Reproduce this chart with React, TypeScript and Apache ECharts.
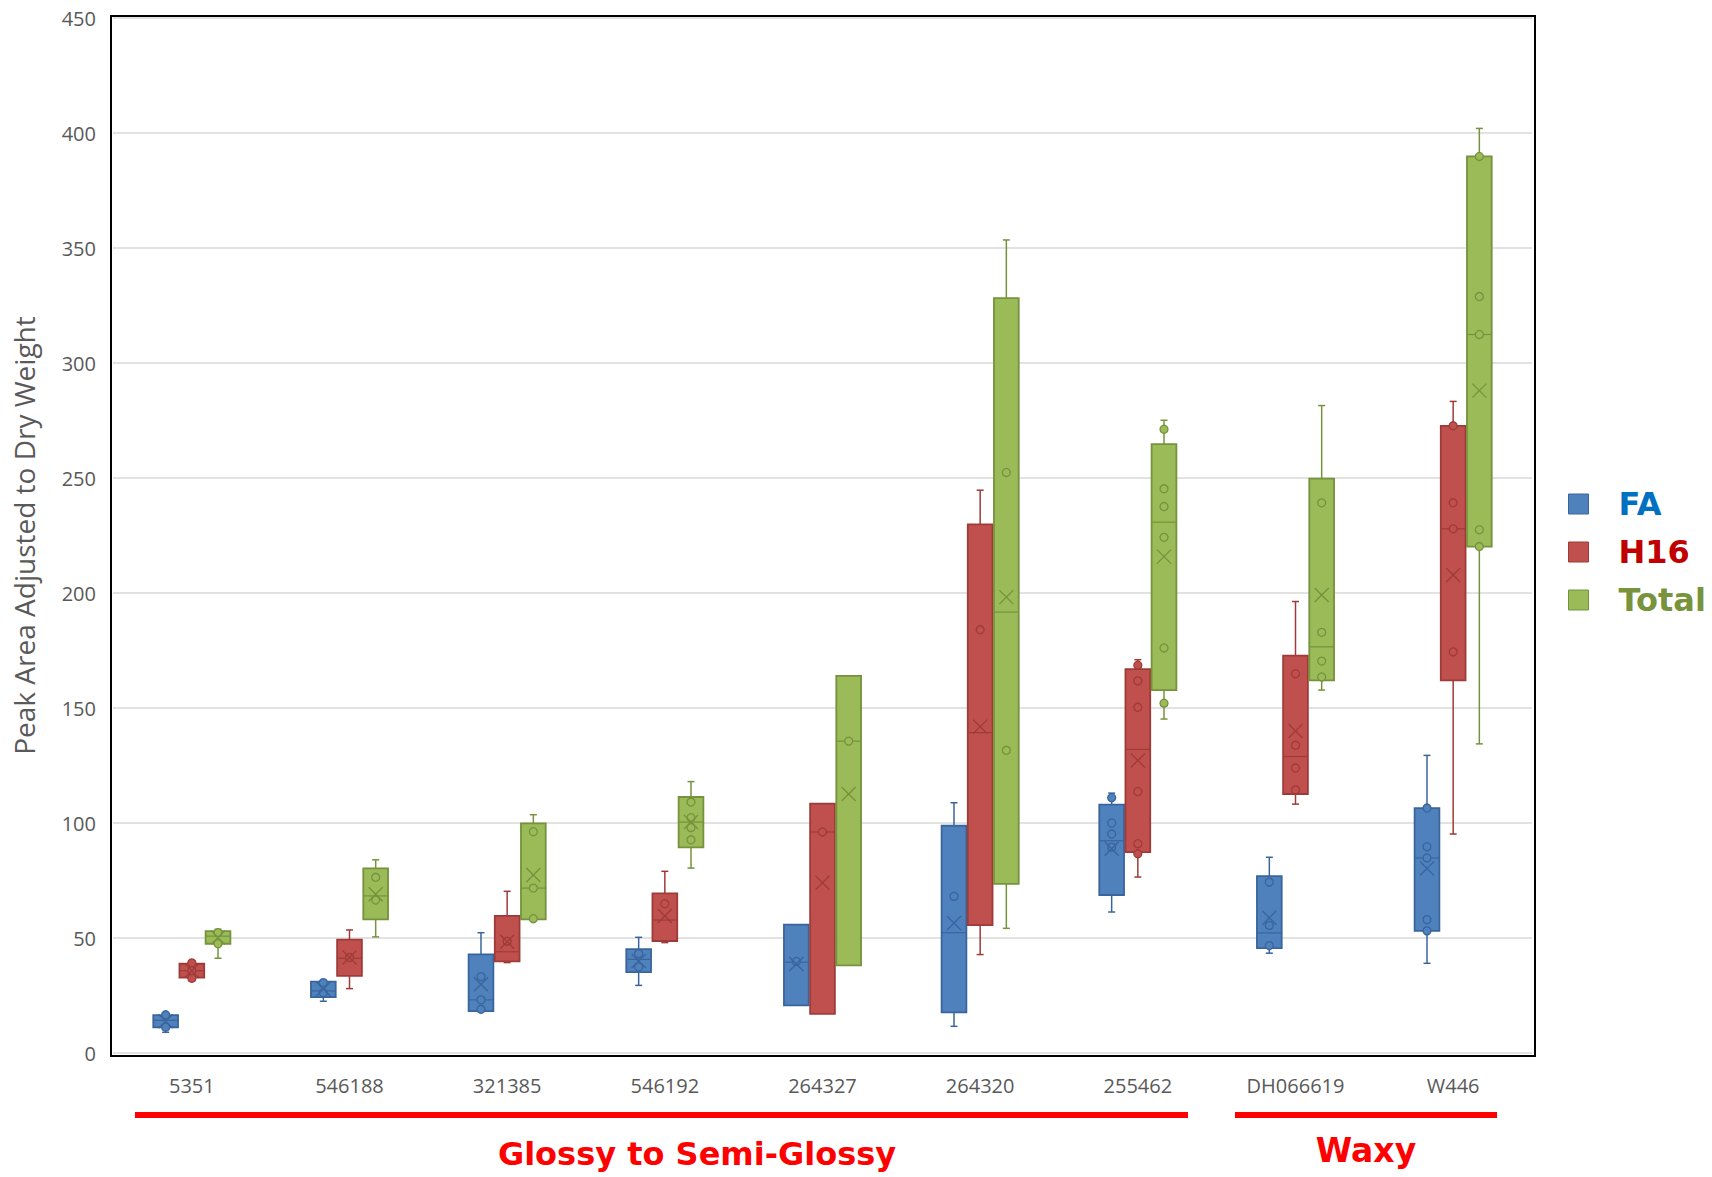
import React, { useEffect, useRef } from 'react';
import * as echarts from 'echarts';

const categories = ['5351', '546188', '321385', '546192', '264327', '264320', '255462', 'DH066619', 'W446'];
const seriesNames = ['FA', 'H16', 'Total'];

// [min, q1, median, q3, max, mean]
const faStats = [
  [9, 11.2, 14.2, 16.5, 17, 13.8],
  [22.5, 24.3, 27, 31, 31.7, 27.8],
  [18, 18.2, 23.1, 42.9, 52.3, 29.9],
  [29.4, 35.2, 40.7, 45.2, 50.3, 40],
  [20.7, 20.7, 39.5, 55.8, 55.8, 38.7],
  [11.6, 17.7, 52.3, 98.8, 108.8, 56.5],
  [61.3, 68.7, 92.3, 108, 113, 88.8],
  [43.4, 45.6, 52.2, 76.9, 85.1, 58.8],
  [39, 53.1, 84.8, 106.5, 129.4, 80.2],
];
const h16Stats = [
  [31.5, 32.8, 35.8, 38.8, 39.5, 35.8],
  [28, 33.5, 41.2, 49.3, 53.5, 41.5],
  [39.3, 39.8, 44, 59.6, 70.3, 48.4],
  [48, 48.7, 57.8, 69.4, 79, 59.6],
  [17, 17, 96.1, 108.4, 108.4, 74],
  [42.8, 55.6, 139.3, 229.8, 244.7, 141.9],
  [76.5, 87.3, 132, 166.9, 171, 127.2],
  [108.2, 112.6, 128.9, 172.8, 196.3, 140],
  [95.2, 162, 227.9, 272.7, 283.3, 207.8],
];
const totalStats = [
  [41.2, 47.5, 50.8, 53, 53.8, 50.2],
  [50.5, 58.1, 68.3, 80.3, 84, 69],
  [58, 58.1, 71.7, 99.8, 103.6, 77.4],
  [80.4, 89.4, 100.4, 111.3, 118, 100.4],
  [38.1, 38.1, 135.6, 164, 164, 112.6],
  [54.2, 73.5, 191.7, 328.2, 353.5, 198.2],
  [145.2, 157.8, 230.8, 264.7, 275.1, 215.8],
  [157.8, 162, 176.6, 249.7, 281.5, 199.1],
  [134.4, 220.2, 312.4, 389.8, 402, 288],
];

// visible inner points
const faPoints = [
  [16.6, 11.2],
  [30.6, 26.2],
  [33.2, 23.1, 19],
  [43.2, 37.4],
  [39.8],
  [68.1],
  [111, 100, 95.2, 89.5],
  [74.3, 55.5, 46.7],
  [106.5, 89.7, 84.8, 58, 53.1],
];
const h16Points = [
  [39.2, 32.5, 35.8],
  [41.5],
  [48.6],
  [64.9],
  [96.1],
  [184],
  [168.6, 161.8, 150.3, 113.7, 91, 86.6],
  [164.9, 133.8, 123.9, 114.4],
  [272.7, 239.2, 227.9, 174.4],
];
const totalPoints = [
  [52.3, 47.5],
  [76.4, 66.5],
  [96.2, 71.7, 58.4],
  [109.1, 102.3, 98, 92.7],
  [135.6],
  [252.4, 131.6],
  [271.2, 245.3, 237.6, 224.2, 176.1, 152.1],
  [239.2, 182.9, 170.4, 163.5],
  [389.8, 328.9, 312.4, 227.5, 220.2],
];

const yTicks = [0, 50, 100, 150, 200, 250, 300, 350, 400, 450];

const fills = ['#4F81BD', '#C0504D', '#9BBB59'];
const strokes = ['#3A659C', '#9E3B38', '#76923C'];
const legendColors = ['#0070C0', '#C00000', '#77933C'];
const offsets = [-0.166, 0, 0.166];

const allStats = [faStats, h16Stats, totalStats];
const allPoints = [faPoints, h16Points, totalPoints];

function makeRenderer(g: number) {
  return (params: any, api: any) => {
    const ci = api.value(0);
    const band = api.size([1, 0])[0];
    const w = band * 0.157;
    const cx = api.coord([ci, 0])[0] + offsets[g] * band;
    const yv = (v: number) => api.coord([ci, v])[1];
    const mn = yv(api.value(1));
    const q1 = yv(api.value(2));
    const md = yv(api.value(3));
    const q3 = yv(api.value(4));
    const mx = yv(api.value(5));
    const mean = yv(api.value(6));
    const stroke = strokes[g];
    const fill = fills[g];
    const lineStyle = { stroke, lineWidth: 1.5 };
    const cap = 3.5;
    const children: any[] = [];
    if (mn - q1 > 1) {
      children.push({ type: 'line', shape: { x1: cx, y1: q1, x2: cx, y2: mn }, style: lineStyle });
      children.push({ type: 'line', shape: { x1: cx - cap, y1: mn, x2: cx + cap, y2: mn }, style: lineStyle });
    }
    if (q3 - mx > 1) {
      children.push({ type: 'line', shape: { x1: cx, y1: q3, x2: cx, y2: mx }, style: lineStyle });
      children.push({ type: 'line', shape: { x1: cx - cap, y1: mx, x2: cx + cap, y2: mx }, style: lineStyle });
    }
    children.push({
      type: 'rect',
      shape: { x: cx - w / 2, y: q3, width: w, height: q1 - q3 },
      style: { fill, stroke, lineWidth: 1.8 },
    });
    children.push({ type: 'line', shape: { x1: cx - w / 2, y1: md, x2: cx + w / 2, y2: md }, style: { stroke, lineWidth: 1.2 } });
    const pts = allPoints[g][params.dataIndex] || [];
    pts.forEach((p: number) => {
      children.push({
        type: 'circle',
        shape: { cx, cy: yv(p), r: 4 },
        style: { fill, stroke, lineWidth: 1.3 },
      });
    });
    const h = 7;
    children.push({ type: 'line', shape: { x1: cx - h, y1: mean - h, x2: cx + h, y2: mean + h }, style: { stroke, lineWidth: 1.3 } });
    children.push({ type: 'line', shape: { x1: cx - h, y1: mean + h, x2: cx + h, y2: mean - h }, style: { stroke, lineWidth: 1.3 } });
    return { type: 'group', children };
  };
}

const tickFont = "'Open Sans', 'DejaVu Sans', sans-serif";
const comicFont = "'Comic Sans MS', 'DejaVu Sans', sans-serif";

export default function App() {
  const ref = useRef<HTMLDivElement>(null);
  useEffect(() => {
    const chart = echarts.init(ref.current as HTMLDivElement, null, { renderer: 'svg' });
    const option: any = {
      animation: false,
      backgroundColor: '#ffffff',
      grid: {
        left: 113,
        right: 180,
        top: 18,
        bottom: 124,
      },
      legend: {
        orient: 'vertical',
        left: 1563,
        top: 479,
        itemWidth: 20,
        itemHeight: 20,
        itemGap: 8,
        icon: 'rect',
        textStyle: {
          fontSize: 32,
          fontWeight: 'bold',
          fontFamily: comicFont,
          lineHeight: 40,
          padding: [0, 0, 0, 25],
        },
        data: seriesNames.map((n, i) => ({
          name: n,
          itemStyle: { color: fills[i], borderColor: strokes[i], borderWidth: 1 },
          textStyle: { color: legendColors[i] },
        })),
      },
      xAxis: {
        type: 'category',
        data: categories,
        axisLine: { show: false },
        axisTick: { show: false },
        axisLabel: { color: '#595959', fontSize: 20, fontFamily: tickFont, margin: 22 },
        splitLine: { show: false },
      },
      yAxis: {
        type: 'value',
        min: yTicks[0],
        max: yTicks[yTicks.length - 1],
        interval: 50,
        name: 'Peak Area Adjusted to Dry Weight',
        nameLocation: 'middle',
        nameGap: 75,
        nameTextStyle: { color: '#595959', fontSize: 28, fontFamily: tickFont },
        axisLine: { show: false },
        axisTick: { show: false },
        axisLabel: { color: '#595959', fontSize: 20, fontFamily: tickFont, margin: 17 },
        splitLine: { lineStyle: { color: '#D9D9D9', width: 1.5 } },
      },
      series: [0, 1, 2].map((g) => ({
        type: 'custom',
        name: seriesNames[g],
        itemStyle: { color: fills[g], borderColor: strokes[g] },
        renderItem: makeRenderer(g),
        encode: { x: 0, y: [1, 2, 3, 4, 5, 6] },
        data: allStats[g].map((s, i) => [i, ...s]),
        z: 3,
      })),
      graphic: [
        {
          type: 'rect',
          shape: { x: 111, y: 16, width: 1424, height: 1040 },
          style: { fill: 'none', stroke: '#000000', lineWidth: 2 },
          z: 10,
          silent: true,
        },
        {
          type: 'line',
          shape: { x1: 135, y1: 1115, x2: 1188, y2: 1115 },
          style: { stroke: '#FF0000', lineWidth: 6 },
        },
        {
          type: 'line',
          shape: { x1: 1235, y1: 1115, x2: 1497, y2: 1115 },
          style: { stroke: '#FF0000', lineWidth: 6 },
        },
        {
          type: 'text',
          x: 697,
          y: 1154,
          style: {
            text: 'Glossy to Semi-Glossy',
            fill: '#FF0000',
            fontSize: 32,
            fontWeight: 'bold',
            fontFamily: comicFont,
            align: 'center',
            verticalAlign: 'middle',
          },
        },
        {
          type: 'text',
          x: 1366,
          y: 1150,
          style: {
            text: 'Waxy',
            fill: '#FF0000',
            fontSize: 33,
            fontWeight: 'bold',
            fontFamily: comicFont,
            align: 'center',
            verticalAlign: 'middle',
          },
        },
      ],
    };
    chart.setOption(option);
    return () => chart.dispose();
  }, []);
  return (
    <div
      ref={ref}
      style={{ position: 'absolute', left: 0, top: 0, width: 1712, height: 1177, background: '#fff' }}
    />
  );
}
